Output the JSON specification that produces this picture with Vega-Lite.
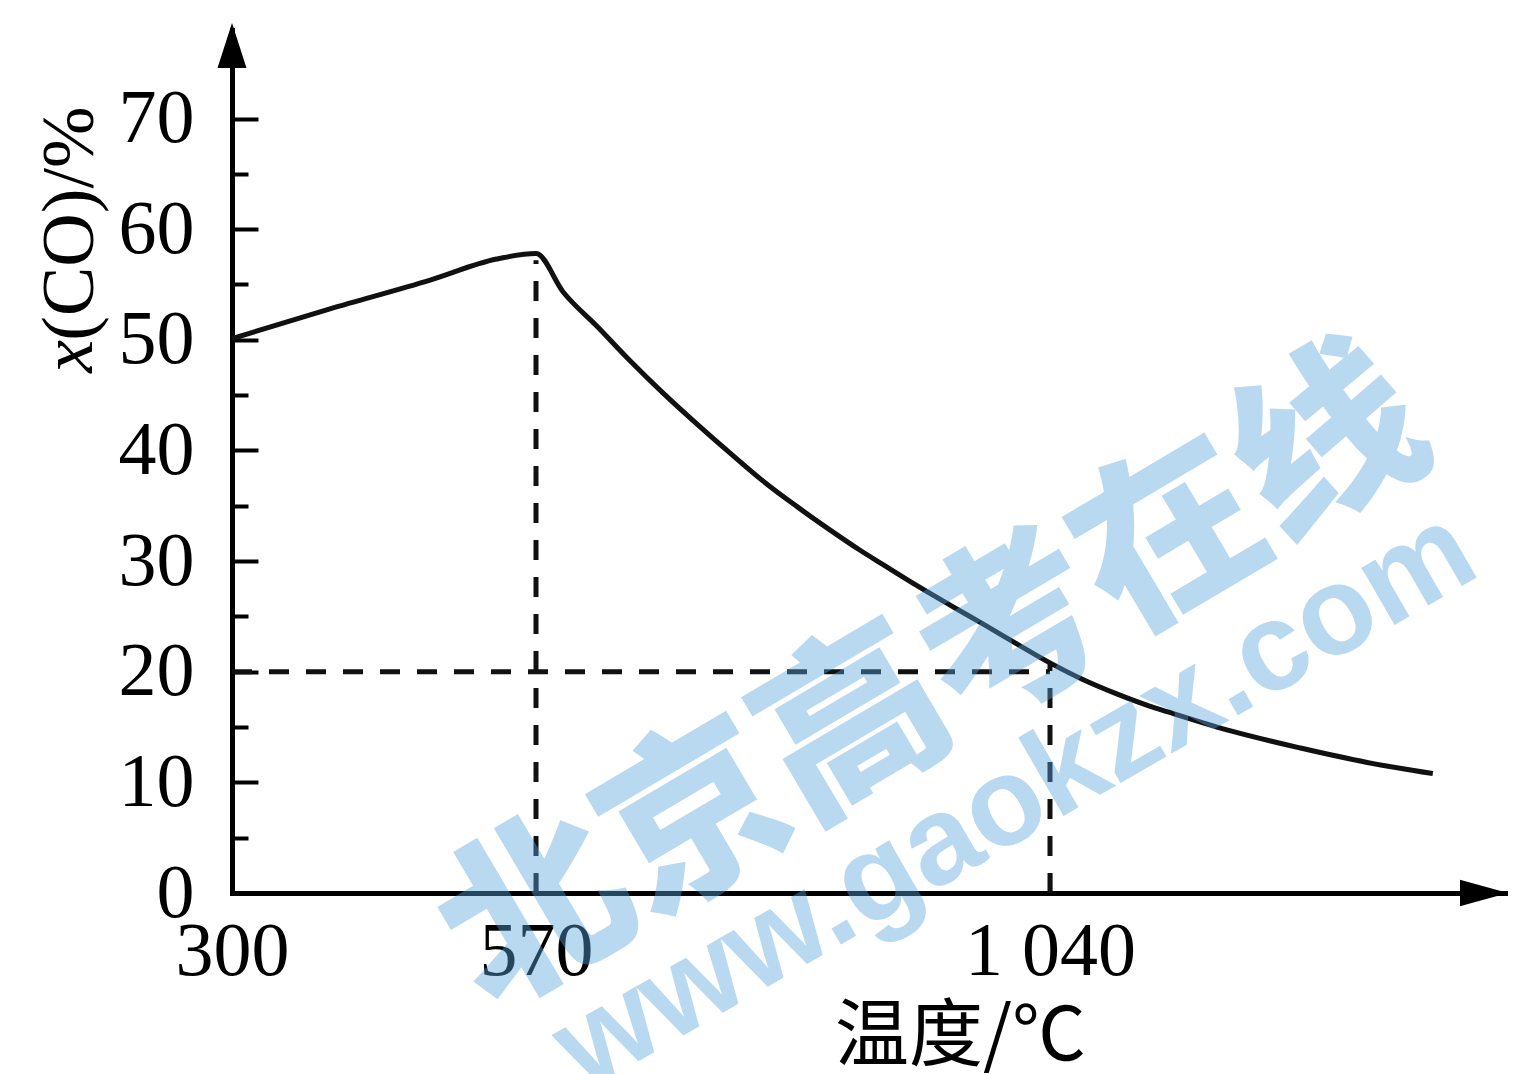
{
  "$schema": "https://vega.github.io/schema/vega-lite/v6.json",
  "width": 1273,
  "height": 863,
  "autosize": {"type": "none"},
  "padding": {"left": 232, "top": 30, "right": 8, "bottom": 181},
  "background": "#ffffff",
  "config": {
    "view": {"stroke": null},
    "axis": {"grid": false, "domainColor": "#000000", "tickColor": "#000000", "labelColor": "#000000", "titleColor": "#000000"}
  },
  "resolve": {"axis": {"x": "independent", "y": "independent"}},
  "layer": [
    {
      "data": {"values": [
        {"t": 300, "co": 50.1},
        {"t": 387, "co": 52.8},
        {"t": 476, "co": 55.4},
        {"t": 535, "co": 57.3},
        {"t": 570, "co": 57.8},
        {"t": 595, "co": 54.3},
        {"t": 626, "co": 51.2},
        {"t": 656, "co": 48.1},
        {"t": 686, "co": 45.2},
        {"t": 717, "co": 42.4},
        {"t": 747, "co": 39.8},
        {"t": 778, "co": 37.2},
        {"t": 809, "co": 34.9},
        {"t": 839, "co": 32.8},
        {"t": 866, "co": 31.0},
        {"t": 887, "co": 29.7},
        {"t": 918, "co": 27.8},
        {"t": 949, "co": 26.0},
        {"t": 979, "co": 24.3},
        {"t": 1010, "co": 22.5},
        {"t": 1040, "co": 20.8},
        {"t": 1070, "co": 19.3},
        {"t": 1101, "co": 18.0},
        {"t": 1131, "co": 16.9},
        {"t": 1147, "co": 16.4},
        {"t": 1207, "co": 14.6},
        {"t": 1269, "co": 13.1},
        {"t": 1330, "co": 11.8},
        {"t": 1390, "co": 10.8}
      ]},
      "mark": {"type": "line", "interpolate": "monotone", "color": "#111111", "strokeWidth": 5},
      "encoding": {
        "x": {
          "field": "t", "type": "quantitative",
          "scale": {"domain": [300, 570, 1040, 1456], "range": [0, 304, 818, 1273], "nice": false, "zero": false},
          "axis": {
            "orient": "bottom", "values": [300, 570, 1040],
            "labelExpr": "datum.value == 1040 ? '1 040' : datum.label",
            "ticks": false, "domain": true, "domainWidth": 5, "domainCap": "square",
            "labelFont": "Liberation Serif", "labelFontSize": 76, "labelPadding": 21,
            "labelBaseline": "top", "labelFlush": false, "labelOverlap": false,
            "title": "温度/℃", "titleFont": "Noto Sans CJK SC", "titleFontSize": 74, "titleFontWeight": "normal",
            "titleX": 728, "titleY": 108, "titleAlign": "center", "titleBaseline": "top"
          }
        },
        "y": {
          "field": "co", "type": "quantitative",
          "scale": {"domain": [0, 78], "nice": false, "zero": false},
          "axis": {
            "orient": "left", "values": [0, 10, 20, 30, 40, 50, 60, 70],
            "ticks": false, "domain": true, "domainWidth": 5, "domainCap": "square",
            "labelFont": "Liberation Serif", "labelFontSize": 76, "labelPadding": 38,
            "labelBaseline": "middle", "labelFlush": false, "labelOverlap": false,
            "title": "(CO)/%", "titleFont": "Liberation Serif", "titleFontSize": 74, "titleFontWeight": "normal",
            "titleAngle": 270, "titleX": -140, "titleY": 193, "titleAlign": "center", "titleBaseline": "alphabetic"
          }
        }
      }
    },
    {
      "data": {"values": [{}]},
      "mark": {"type": "text", "text": "x", "angle": 270, "font": "Liberation Serif", "fontSize": 74, "fontStyle": "italic", "color": "#000000", "align": "center", "baseline": "alphabetic"},
      "encoding": {
        "x": {"datum": 175.7, "type": "quantitative", "scale": {"domain": [300, 570, 1040, 1456], "range": [0, 304, 818, 1273], "nice": false, "zero": false}, "axis": null},
        "y": {"datum": 48.5, "type": "quantitative", "scale": {"domain": [0, 78], "nice": false, "zero": false}, "axis": null}
      }
    },
    {
      "data": {"values": [
        {"t": 570, "co": 0, "t2": 570, "co2": 57.2},
        {"t": 300, "co": 20, "t2": 1040, "co2": 20},
        {"t": 1040, "co": 0, "t2": 1040, "co2": 20.8}
      ]},
      "mark": {"type": "rule", "strokeDash": [20, 17], "strokeWidth": 5, "color": "#111111"},
      "encoding": {
        "x": {"field": "t", "type": "quantitative", "scale": {"domain": [300, 570, 1040, 1456], "range": [0, 304, 818, 1273], "nice": false, "zero": false}, "axis": null},
        "x2": {"field": "t2"},
        "y": {
          "field": "co", "type": "quantitative", "scale": {"domain": [0, 78], "nice": false, "zero": false},
          "axis": {"orient": "left", "values": [10, 20, 30, 40, 50, 60, 70], "labels": false, "domain": false, "ticks": true, "tickSize": -26, "tickWidth": 4, "title": null}
        },
        "y2": {"field": "co2"}
      }
    },
    {
      "data": {"values": [{}]},
      "mark": {"type": "point", "shape": "M0,-1L0.644,1L-0.644,1Z", "size": 2025, "filled": true, "color": "#000000", "opacity": 1},
      "encoding": {
        "x": {"datum": 300, "type": "quantitative", "scale": {"domain": [300, 570, 1040, 1456], "range": [0, 304, 818, 1273], "nice": false, "zero": false}, "axis": null},
        "y": {
          "datum": 76.6, "type": "quantitative", "scale": {"domain": [0, 78], "nice": false, "zero": false},
          "axis": {"orient": "left", "values": [5, 15, 25, 35, 45, 55, 65], "labels": false, "domain": false, "ticks": true, "tickSize": -16, "tickWidth": 4, "title": null}
        }
      }
    },
    {
      "data": {"values": [{}]},
      "mark": {"type": "point", "shape": "M1,0L-1,-0.55L-1,0.55Z", "size": 2304, "filled": true, "color": "#000000", "opacity": 1},
      "encoding": {
        "x": {
          "datum": 1436.8, "type": "quantitative", "scale": {"domain": [300, 570, 1040, 1456], "range": [0, 304, 818, 1273], "nice": false, "zero": false},
          "axis": {"orient": "bottom", "values": [570, 1040], "labels": false, "domain": false, "ticks": true, "tickSize": -20, "tickWidth": 3.5, "title": null}
        },
        "y": {"datum": 0, "type": "quantitative", "scale": {"domain": [0, 78], "nice": false, "zero": false}, "axis": null}
      }
    },
    {
      "data": {"values": [{}]},
      "mark": {"type": "text", "text": "北京高考在线", "angle": -30.6, "font": "Noto Sans CJK SC", "fontSize": 184, "fontWeight": 900, "color": "#5aa5e0", "opacity": 0.42, "align": "center", "baseline": "middle"},
      "encoding": {
        "x": {"datum": 935, "type": "quantitative", "scale": {"domain": [300, 570, 1040, 1456], "range": [0, 304, 818, 1273], "nice": false, "zero": false}, "axis": null},
        "y": {"datum": 19.0, "type": "quantitative", "scale": {"domain": [0, 78], "nice": false, "zero": false}, "axis": null}
      }
    },
    {
      "data": {"values": [{}]},
      "mark": {"type": "text", "text": "www.gaokzx.com", "angle": -30, "font": "Liberation Sans", "fontSize": 125, "fontWeight": "bold", "color": "#5aa5e0", "opacity": 0.42, "align": "center", "baseline": "middle"},
      "encoding": {
        "x": {"datum": 1008, "type": "quantitative", "scale": {"domain": [300, 570, 1040, 1456], "range": [0, 304, 818, 1273], "nice": false, "zero": false}, "axis": null},
        "y": {"datum": 8.4, "type": "quantitative", "scale": {"domain": [0, 78], "nice": false, "zero": false}, "axis": null}
      }
    }
  ]
}
